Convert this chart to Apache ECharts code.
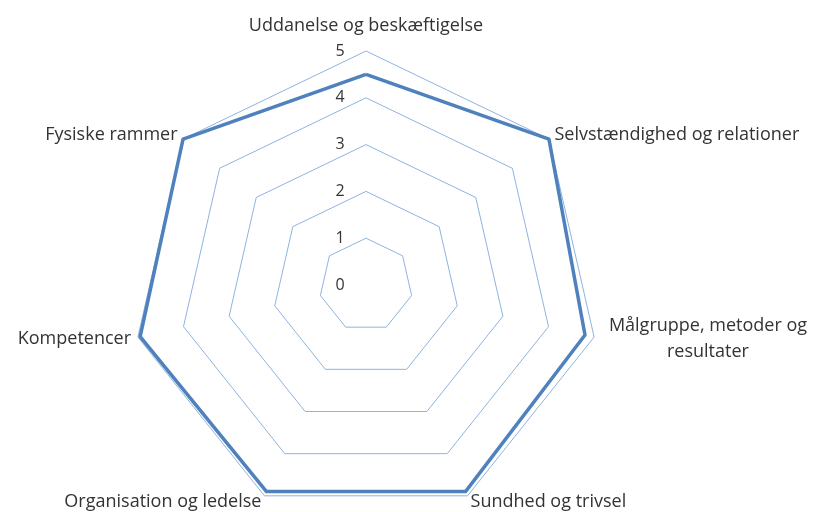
<!DOCTYPE html>
<html>
<head>
<meta charset="utf-8">
<script src="https://cdn.jsdelivr.net/npm/echarts@6/dist/echarts.min.js"></script>
<style>
  html, body { margin: 0; padding: 0; background: #fff; }
  #container { width: 818px; height: 512px; }
</style>
</head>
<body>
<div id="container"></div>
<script>
// kategorier, med uret fra toppen
const categories = [
  'Uddanelse og beskæftigelse',
  'Selvstændighed og relationer',
  'Målgruppe, metoder og\nresultater',
  'Sundhed og trivsel',
  'Organisation og ledelse',
  'Kompetencer',
  'Fysiske rammer'
]
const scores = [4.5, 5.0, 4.8, 4.9, 4.9, 4.95, 5.0]
const tickLabels = ['0', '1', '2', '3', '4', '5']
const axisMax = 5

// echarts tegner radar mod uret, så rækkefølgen vendes (første bliver i toppen)
const order = categories.map(function (_, i) { return i === 0 ? 0 : categories.length - i })

const myChart = echarts.init(document.getElementById('container'))
myChart.setOption({
  animation: false,
  radar: {
    center: [366, 285],
    radius: 234,
    startAngle: 90,
    splitNumber: 5,
    shape: 'polygon',
    indicator: order.map(function (i) {
      return { name: categories[i], min: 0, max: axisMax }
    }),
    axisName: {
      color: '#333333',
      fontFamily: 'Open Sans',
      fontSize: 18,
      formatter: function (name) {
        if (name === categories[0]) return '{top|' + name + '}'
        if (name.indexOf('\n') >= 0) return '{two|' + name + '}'
        return name
      },
      rich: {
        top: { fontSize: 18, padding: [0, 0, 9, 0] },
        two: { fontSize: 18, width: 214, align: 'center', lineHeight: 26 }
      }
    },
    nameGap: 7,
    axisLine: { show: false },
    axisTick: { show: false },
    splitArea: { show: false },
    splitLine: {
      lineStyle: { color: '#8db3e2', width: 1 }
    }
  },
  series: [
    {
      type: 'radar',
      symbol: 'none',
      lineStyle: { color: '#4f81bd', width: 3.5 },
      data: [{ value: order.map(function (i) { return scores[i] }) }]
    }
  ],
  // tal på aksen (0-5) til venstre for den lodrette akse
  graphic: tickLabels.map(function (t, k) {
    return {
      type: 'text',
      x: 340,
      y: 285 - k * 234 / axisMax,
      style: {
        text: t,
        fill: '#333333',
        font: '16px "Open Sans"',
        align: 'center',
        verticalAlign: 'middle'
      }
    }
  })
})
</script>
</body>
</html>
